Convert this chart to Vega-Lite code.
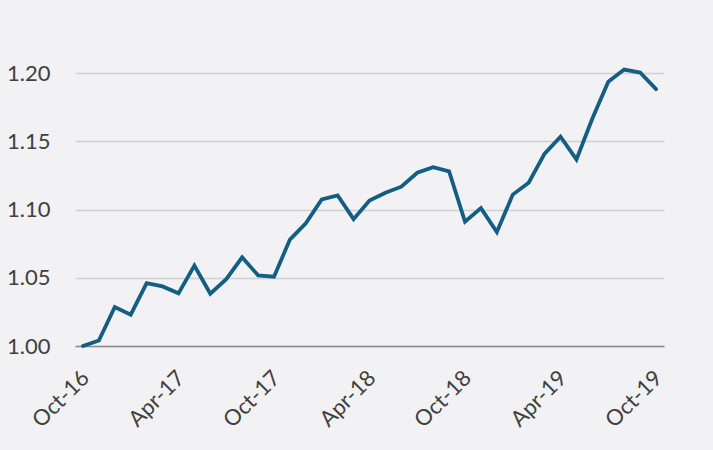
{
  "$schema": "https://vega.github.io/schema/vega-lite/v6.json",
  "width": 589,
  "height": 341,
  "autosize": {"type": "none"},
  "padding": {"left": 75, "top": 5, "right": 49, "bottom": 104},
  "background": "#f2f2f4",
  "config": {
    "view": {"stroke": null},
    "font": "Lato"
  },
  "data": {
    "values": [
      {"m": "Oct-16", "v": 1.000},
      {"m": "Nov-16", "v": 1.004},
      {"m": "Dec-16", "v": 1.0286},
      {"m": "Jan-17", "v": 1.023},
      {"m": "Feb-17", "v": 1.046},
      {"m": "Mar-17", "v": 1.0437},
      {"m": "Apr-17", "v": 1.0386},
      {"m": "May-17", "v": 1.059},
      {"m": "Jun-17", "v": 1.0384},
      {"m": "Jul-17", "v": 1.049},
      {"m": "Aug-17", "v": 1.065},
      {"m": "Sep-17", "v": 1.0518},
      {"m": "Oct-17", "v": 1.0508},
      {"m": "Nov-17", "v": 1.078},
      {"m": "Dec-17", "v": 1.090},
      {"m": "Jan-18", "v": 1.1075},
      {"m": "Feb-18", "v": 1.1104},
      {"m": "Mar-18", "v": 1.093},
      {"m": "Apr-18", "v": 1.1067},
      {"m": "May-18", "v": 1.1124},
      {"m": "Jun-18", "v": 1.1168},
      {"m": "Jul-18", "v": 1.127},
      {"m": "Aug-18", "v": 1.1311},
      {"m": "Sep-18", "v": 1.128},
      {"m": "Oct-18", "v": 1.0911},
      {"m": "Nov-18", "v": 1.1011},
      {"m": "Dec-18", "v": 1.0835},
      {"m": "Jan-19", "v": 1.111},
      {"m": "Feb-19", "v": 1.1197},
      {"m": "Mar-19", "v": 1.141},
      {"m": "Apr-19", "v": 1.1534},
      {"m": "May-19", "v": 1.1368},
      {"m": "Jun-19", "v": 1.1668},
      {"m": "Jul-19", "v": 1.1937},
      {"m": "Aug-19", "v": 1.2027},
      {"m": "Sep-19", "v": 1.2005},
      {"m": "Oct-19", "v": 1.1883}
    ]
  },
  "mark": {"type": "line", "color": "#135e82", "strokeWidth": 3.8, "strokeJoin": "miter", "strokeCap": "round"},
  "encoding": {
    "x": {
      "field": "m",
      "type": "ordinal",
      "sort": null,
      "scale": {"type": "point", "padding": 0.5},
      "axis": {
        "title": null,
        "values": ["Oct-16", "Apr-17", "Oct-17", "Apr-18", "Oct-18", "Apr-19", "Oct-19"],
        "labelAngle": -45,
        "labelFontSize": 22,
        "labelColor": "#404040",
        "labelPadding": 21,
        "labelOffset": -5,
        "ticks": false,
        "domainColor": "#8c8c8c",
        "domainWidth": 1.5,
        "grid": false
      }
    },
    "y": {
      "field": "v",
      "type": "quantitative",
      "scale": {"domain": [1.0, 1.25], "nice": false, "zero": false},
      "axis": {
        "title": null,
        "values": [1.0, 1.05, 1.1, 1.15, 1.2],
        "format": ".2f",
        "labelFontSize": 22,
        "labelColor": "#404040",
        "labelPadding": 25,
        "ticks": false,
        "domain": false,
        "gridColor": "#d0d0d0",
        "gridWidth": 1.5
      }
    }
  }
}
